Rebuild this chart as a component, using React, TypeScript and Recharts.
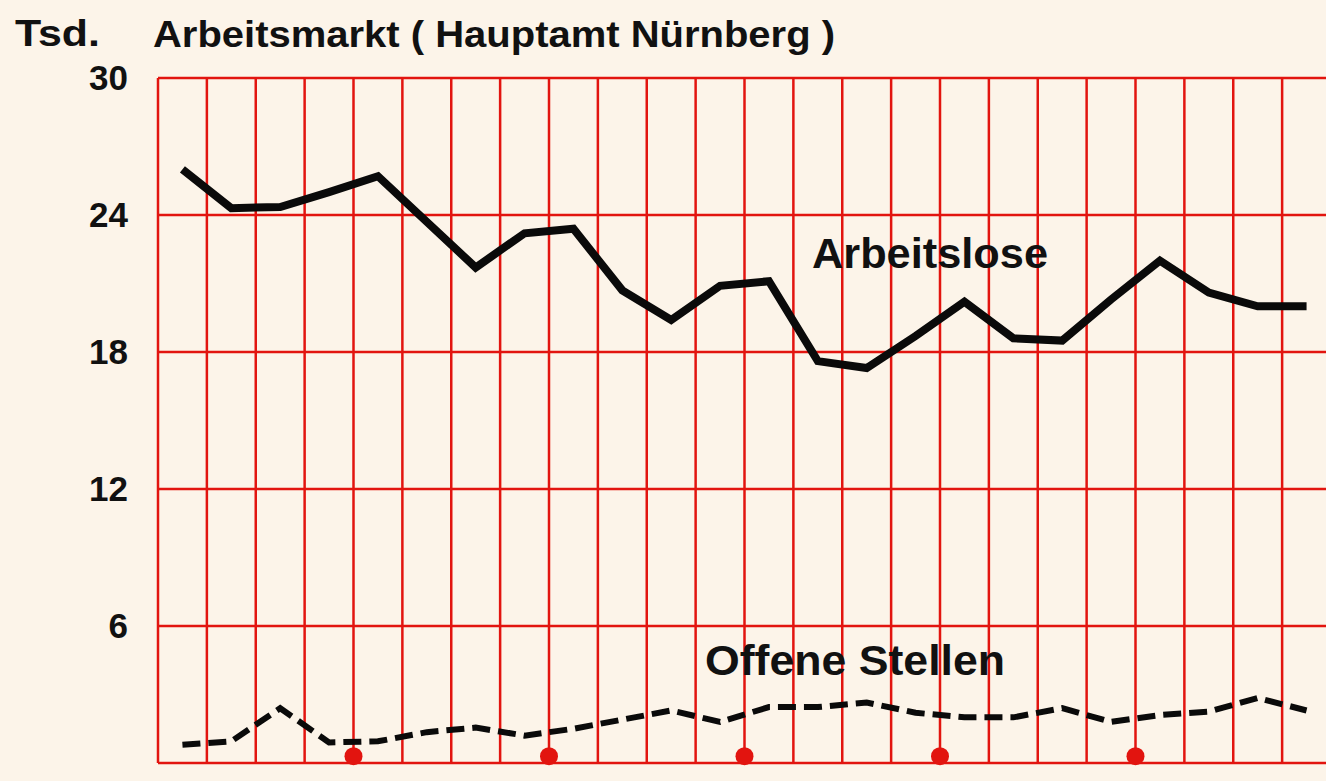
import React from "react";
import {
  LineChart,
  Line,
  XAxis,
  YAxis,
  ReferenceLine,
  ReferenceDot,
} from "recharts";

// quarterly values, 6 years (thousands)
const arbeitslose = [
  26.0, 24.3, 24.35, 25.0, 25.7, 23.7, 21.7, 23.2, 23.4, 20.7, 19.4, 20.9,
  21.1, 17.6, 17.3, 18.7, 20.2, 18.6, 18.5, 20.3, 22.0, 20.6, 20.0, 20.0,
];
const offeneStellen = [
  0.8, 0.95, 2.4, 0.9, 0.95, 1.35, 1.55, 1.2, 1.5, 1.9, 2.3, 1.8, 2.45, 2.45,
  2.65, 2.2, 2.0, 2.0, 2.4, 1.8, 2.1, 2.25, 2.85, 2.3,
];
const yTicks = [0, 6, 12, 18, 24, 30];
const quarterTicks = Array.from({ length: 25 }, (_, i) => i);
const yearMarks = [4, 8, 12, 16, 20];

const data = arbeitslose.map((v, i) => ({
  x: i + 0.5,
  arbeitslose: v,
  offene: offeneStellen[i],
}));

const RED = "#e2140f";
const BG = "#fcf4e9";
const FONT = '"Liberation Sans", Arial, Helvetica, sans-serif';

export default function App() {
  return (
    <div
      style={{
        position: "fixed",
        left: 0,
        top: 0,
        width: 1326,
        height: 781,
        overflow: "hidden",
        background: BG,
        fontFamily: FONT,
      }}
    >
      <LineChart
        width={1345}
        height={781}
        data={data}
        margin={{ top: 78, right: 14, bottom: 18, left: 0 }}
      >
        <XAxis
          type="number"
          dataKey="x"
          domain={[0, 24]}
          ticks={quarterTicks}
          tick={false}
          tickLine={false}
          axisLine={false}
          height={0}
        />
        <YAxis
          domain={[0, 30]}
          ticks={yTicks}
          width={158}
          axisLine={false}
          tickLine={false}
          tickSize={0}
          tickMargin={30}
          tick={{
            fill: "#111",
            fontSize: 35,
            fontWeight: 700,
            fontFamily: FONT,
          }}
        />
        {quarterTicks.map((q) => (
          <ReferenceLine
            key={"v" + q}
            x={q}
            stroke={RED}
            strokeWidth={2.5}
            ifOverflow="visible"
          />
        ))}
        {yTicks.map((t) => (
          <ReferenceLine
            key={"h" + t}
            y={t}
            stroke={RED}
            strokeWidth={2.5}
            ifOverflow="visible"
          />
        ))}
        {yearMarks.map((m) => (
          <ReferenceDot
            key={m}
            x={m}
            y={0.3}
            r={9}
            fill={RED}
            stroke="none"
            ifOverflow="visible"
          />
        ))}
        <Line
          type="linear"
          dataKey="arbeitslose"
          stroke="#0a0a0a"
          strokeWidth={8}
          dot={false}
          isAnimationActive={false}
        />
        <Line
          type="linear"
          dataKey="offene"
          stroke="#0a0a0a"
          strokeWidth={6}
          strokeDasharray="18 8"
          dot={false}
          isAnimationActive={false}
        />
      </LineChart>
      <svg
        width={1326}
        height={781}
        style={{ position: "absolute", left: 0, top: 0, pointerEvents: "none" }}
        fontFamily={FONT}
        fontWeight={700}
        fill="#111"
      >
        <text x={15} y={46} fontSize={37} textLength={85} lengthAdjust="spacingAndGlyphs">
          Tsd.
        </text>
        <text x={153} y={47} fontSize={37} textLength={682} lengthAdjust="spacingAndGlyphs">
          Arbeitsmarkt ( Hauptamt Nürnberg )
        </text>
        <text x={812} y={268} fontSize={42} textLength={236} lengthAdjust="spacingAndGlyphs">
          Arbeitslose
        </text>
        <text x={705} y={675} fontSize={42} textLength={300} lengthAdjust="spacingAndGlyphs">
          Offene Stellen
        </text>
      </svg>
    </div>
  );
}
